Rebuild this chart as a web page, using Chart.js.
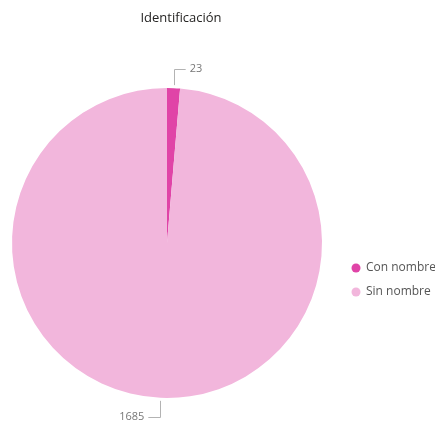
<!DOCTYPE html>
<html>
<head>
<meta charset="utf-8">
<script src="https://cdn.jsdelivr.net/npm/chart.js@4"></script>
<style>
  html, body { margin: 0; padding: 0; background: #fff; }
  #wrap { width: 435px; height: 423px; position: relative; }
</style>
</head>
<body>
<div id="wrap"><canvas id="pie"></canvas></div>
<script>
  const chartTitle = "Identificación";
  const categories = ["Con nombre", "Sin nombre"];
  const values = [23, 1685];
  const colors = ["#E044A7", "#F2B6DC"];

  const FONT = "'Open Sans', 'Noto Sans', sans-serif";

  // leader lines + value labels, title and legend
  const decorPlugin = {
    id: "decor",
    afterDraw(chart) {
      const ctx = chart.ctx;
      const meta = chart.getDatasetMeta(0);
      ctx.save();

      ctx.fillStyle = "#252423";
      ctx.font = "13px " + FONT;
      ctx.textAlign = "center";
      ctx.textBaseline = "middle";
      ctx.fillText(chartTitle, 181, 18);

      meta.data.forEach((arc, i) => {
        const mid = (arc.startAngle + arc.endAngle) / 2;
        const r = arc.outerRadius;
        const sx = arc.x + Math.cos(mid) * (r + 3);
        const sy = arc.y + Math.sin(mid) * (r + 3);
        const up = Math.sin(mid) < 0;
        const ey = up ? sy - 16 : sy + 16;
        const right = up;
        const ex = right ? sx + 12 : sx - 12;
        ctx.strokeStyle = "#b3b3b3";
        ctx.lineWidth = 1;
        ctx.beginPath();
        ctx.moveTo(Math.round(sx) + 0.5, sy);
        ctx.lineTo(Math.round(sx) + 0.5, Math.round(ey) + 0.5);
        ctx.lineTo(ex, Math.round(ey) + 0.5);
        ctx.stroke();
        ctx.fillStyle = "#777777";
        ctx.font = "11px " + FONT;
        ctx.textAlign = right ? "left" : "right";
        ctx.fillText(String(values[i]), right ? ex + 4 : ex - 4, ey);
      });

      categories.forEach((name, i) => {
        const y = 268 + i * 24;
        ctx.fillStyle = colors[i];
        ctx.beginPath();
        ctx.arc(356, y, 4.5, 0, Math.PI * 2);
        ctx.fill();
        ctx.fillStyle = "#555555";
        ctx.font = "12px " + FONT;
        ctx.textAlign = "left";
        ctx.fillText(name, 366, y);
      });
      ctx.restore();
    },
  };

  new Chart(document.getElementById("pie"), {
    type: "pie",
    data: {
      labels: categories,
      datasets: [
        {
          data: values,
          backgroundColor: colors,
          borderWidth: 0,
          hoverOffset: 0,
        },
      ],
    },
    options: {
      responsive: true,
      maintainAspectRatio: false,
      animation: false,
      events: [],
      layout: { padding: { left: 12, top: 88, right: 113, bottom: 25 } },
      plugins: {
        legend: { display: false },
        title: { display: false },
        tooltip: { enabled: false },
      },
    },
    plugins: [decorPlugin],
  });
</script>
</body>
</html>
